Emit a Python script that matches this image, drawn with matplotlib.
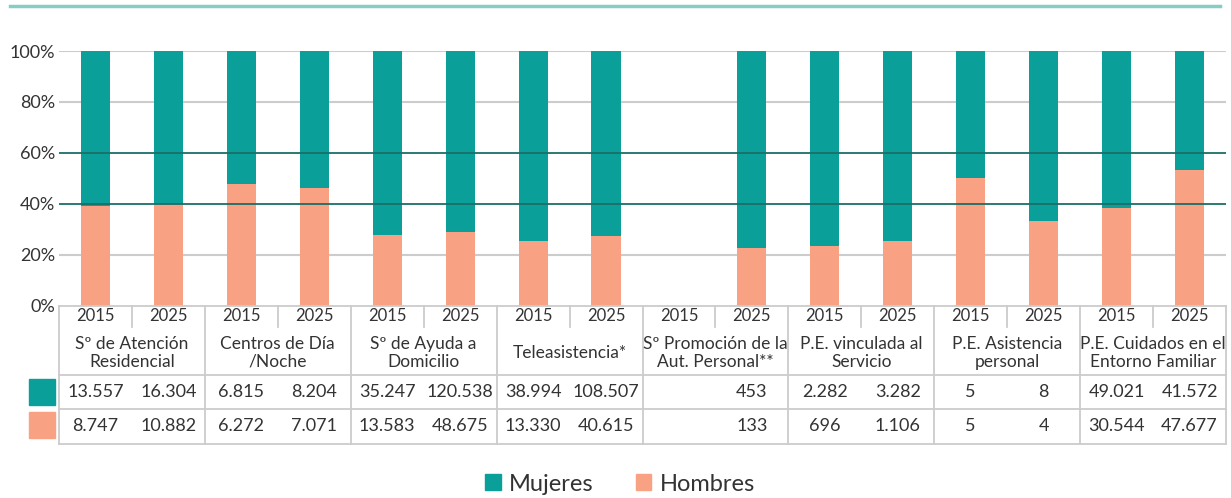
import matplotlib
matplotlib.use("Agg")
import matplotlib.pyplot as plt
from matplotlib.patches import Patch, Rectangle
from matplotlib.lines import Line2D

plt.rcParams['font.family'] = ['Lato', 'DejaVu Sans']

TEAL = '#0A9F99'
SALMON = '#F8A183'
DARK = '#1B6E67'
GRID = '#CCCCCC'
TXT = '#333333'

categories = ["Sº de Atención\nResidencial", "Centros de Día\n/Noche", "Sº de Ayuda a\nDomicilio",
              "Teleasistencia*", "Sº Promoción de la\nAut. Personal**", "P.E. vinculada al\nServicio",
              "P.E. Asistencia\npersonal", "P.E. Cuidados en el\nEntorno Familiar"]
years = ["2015", "2025"]
mujeres = [13557, 16304, 6815, 8204, 35247, 120538, 38994, 108507,
           None, 453, 2282, 3282, 5, 8, 49021, 41572]
hombres = [8747, 10882, 6272, 7071, 13583, 48675, 13330, 40615,
           None, 133, 696, 1106, 5, 4, 30544, 47677]


def fmt(v):
    return "" if v is None else f"{v:,}".replace(",", ".")


W, H = 1231, 498
fig = plt.figure(figsize=(W / 100, H / 100), dpi=100)

# top decorative line
fig.add_artist(Line2D([10 / W, 1220 / W], [1 - 6 / H, 1 - 6 / H], color='#8ACCC5', lw=2.5))

x0, x1, y_top, y_zero = 59, 1226, 51, 305.5
ax = fig.add_axes([x0 / W, 1 - y_zero / H, (x1 - x0) / W, (y_zero - y_top) / H])
n = len(mujeres)
xs = list(range(n))
pct_h = [None if m is None else h / (m + h) * 100 for m, h in zip(mujeres, hombres)]
for x, p in zip(xs, pct_h):
    if p is None:
        continue
    ax.bar(x, p, width=0.4, color=SALMON, zorder=2)
    ax.bar(x, 100 - p, bottom=p, width=0.4, color=TEAL, zorder=2)

for y in [20, 80, 100]:
    ax.axhline(y, color=GRID, lw=1.5, zorder=0)
for y in [40, 60]:
    ax.axhline(y, color=DARK, lw=1.3, zorder=3)

ax.set_xlim(-0.5, n - 0.5)
ax.set_ylim(0, 100)
ax.set_yticks([0, 20, 40, 60, 80, 100])
ax.set_yticklabels([f"{t}%" for t in [0, 20, 40, 60, 80, 100]], fontsize=13, color=TXT)
ax.tick_params(axis='y', length=0, pad=3)
ax.set_xticks([])
for s in ['top', 'right', 'left']:
    ax.spines[s].set_visible(False)
ax.spines['bottom'].set_color(GRID)
ax.spines['bottom'].set_linewidth(1.3)

# data table below
r_top, r_year, r_cat, r_m, r_h = 305.5, 327, 375, 409, 443.5
tb = fig.add_axes([x0 / W, 1 - r_h / H, (x1 - x0) / W, (r_h - r_top) / H])
tb.set_xlim(-0.5, n - 0.5)
tb.set_ylim(r_h, r_top)
tb.axis('off')

lc = dict(color=GRID, lw=1.3, clip_on=False)
for y in [r_cat, r_m, r_h]:
    tb.plot([-0.5, n - 0.5], [y, y], **lc)
for g in range(len(categories) + 1):
    xb = g * 2 - 0.5
    tb.plot([xb, xb], [r_top, r_h], **lc)
for g in range(len(categories)):
    xb = g * 2 + 0.5
    tb.plot([xb, xb], [r_top, r_year], **lc)

for i in xs:
    tb.text(i, 315.5, years[i % 2], ha='center', va='center', fontsize=12, color=TXT)
    tb.text(i, (r_cat + r_m) / 2, fmt(mujeres[i]), ha='center', va='center', fontsize=13, color=TXT)
    tb.text(i, (r_m + r_h) / 2, fmt(hombres[i]), ha='center', va='center', fontsize=13, color=TXT)
for g, c in enumerate(categories):
    tb.text(g * 2 + 0.5, 353, c, ha='center', va='center', fontsize=12.5, color=TXT,
            linespacing=1.15)

cw = (x1 - x0) / n
for yy0, yy1, col in [(379, 405, TEAL), (411.5, 437.5, SALMON)]:
    tb.add_patch(Rectangle((-0.5 + (29 - x0) / cw, yy1), 26 / cw, yy0 - yy1,
                           color=col, clip_on=False))

handles = [Patch(color=TEAL, label='Mujeres'), Patch(color=SALMON, label='Hombres')]
leg = fig.legend(handles=handles, loc='center', bbox_to_anchor=(620 / W, 1 - 484 / H), ncol=2,
                 frameon=False, fontsize=17, handlelength=0.65, handleheight=0.65,
                 handletextpad=0.35, columnspacing=1.8)
for t in leg.get_texts():
    t.set_color(TXT)

fig.savefig('out.png', dpi=100)
